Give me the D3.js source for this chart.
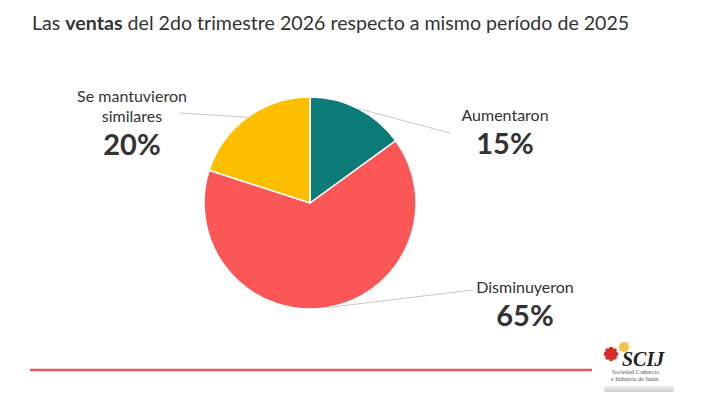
<!DOCTYPE html>
<html>
<head>
<meta charset="utf-8">
<script src="https://cdn.jsdelivr.net/npm/d3@7"></script>
<style>
  body { margin: 0; background: #fff; }
  svg { display: block; }
  text { font-family: Lato, "Open Sans", sans-serif; fill: #333; }
</style>
</head>
<body>
<svg width="720" height="405"></svg>
<script>
const categories = ['Aumentaron', 'Disminuyeron', 'Se mantuvieron similares'];
const values = [15, 65, 20];
const colors = ['#0b7b78', '#fc5757', '#fcbf00'];
// label lines (split where the slide breaks them)
const labelLines = [['Aumentaron'], ['Disminuyeron'], ['Se mantuvieron', 'similares']];
// where each label block sits: [x, y of first line]
const labelPos = [[505, 121], [525, 293], [132, 102]];
const leaderEnd = [[450, 133], [473, 290], [180, 113]];

const svg = d3.select('svg');
const cx = 310, cy = 203, radius = 106;

// title with the bold word
const title = svg.append('text')
  .attr('x', 32).attr('y', 30)
  .style('font-size', '19.6px');
title.append('tspan').text('Las ');
title.append('tspan').style('font-weight', 'bold').text('ventas');
title.append('tspan').text(' del 2do trimestre 2026 respecto a mismo período de 2025');

const data = categories.map((c, i) => ({ cat: c, value: values[i], color: colors[i], i }));

const pie = d3.pie().value(d => d.value).sort(null);
const arc = d3.arc().innerRadius(0).outerRadius(radius);
const arcs = pie(data);

const gPie = svg.append('g').attr('transform', `translate(${cx},${cy})`);

gPie.selectAll('path')
  .data(arcs)
  .join('path')
  .attr('d', arc)
  .attr('fill', d => d.data.color)
  .attr('stroke', '#fff')
  .attr('stroke-width', 1.5);

// leader lines, from the middle of each slice's edge to the label
svg.append('g').selectAll('line')
  .data(arcs)
  .join('line')
  .attr('x1', d => cx + radius * Math.sin((d.startAngle + d.endAngle) / 2))
  .attr('y1', d => cy - radius * Math.cos((d.startAngle + d.endAngle) / 2))
  .attr('x2', d => leaderEnd[d.data.i][0])
  .attr('y2', d => leaderEnd[d.data.i][1])
  .attr('stroke', '#c8c8c8')
  .attr('stroke-width', 1);

// labels
const gLab = svg.append('g').selectAll('g')
  .data(arcs)
  .join('g')
  .attr('transform', d => `translate(${labelPos[d.data.i][0]},${labelPos[d.data.i][1]})`);

gLab.each(function(d) {
  const g = d3.select(this);
  const lines = labelLines[d.data.i];
  lines.forEach((l, k) => {
    g.append('text')
      .attr('y', k * 20)
      .attr('text-anchor', 'middle')
      .style('font-size', '16px')
      .text(l);
  });
  g.append('text')
    .attr('y', (lines.length - 1) * 20 + 33)
    .attr('text-anchor', 'middle')
    .style('font-size', '29px')
    .style('font-weight', 'bold')
    .text(d.data.value + '%');
});

// red rule at the bottom
svg.append('line')
  .attr('x1', 30).attr('x2', 592)
  .attr('y1', 370).attr('y2', 370)
  .attr('stroke', '#e45a5a')
  .attr('stroke-width', 2.5);

// SCIJ logo
const logo = svg.append('g');
function gear(x, y, r, col) {
  const g = logo.append('g').attr('transform', `translate(${x},${y})`);
  d3.range(8).forEach(k => {
    const a = k * Math.PI / 4;
    g.append('circle')
      .attr('cx', r * Math.cos(a)).attr('cy', r * Math.sin(a))
      .attr('r', r * 0.45).attr('fill', col);
  });
  g.append('circle').attr('r', r * 0.85).attr('fill', col);
}
gear(611, 354, 5, '#d82a2a');
gear(624, 347, 3.8, '#f2c14e');
logo.append('text')
  .attr('x', 622).attr('y', 366)
  .style('font-family', '"Liberation Serif", serif')
  .style('font-style', 'italic')
  .style('font-weight', 'bold')
  .style('font-size', '20px')
  .style('fill', '#222')
  .text('SCIJ');
logo.append('text')
  .attr('x', 612).attr('y', 374)
  .style('font-family', '"Liberation Serif", serif')
  .style('font-size', '6px')
  .style('fill', '#555')
  .text('Sociedad Comercio');
logo.append('text')
  .attr('x', 611).attr('y', 381)
  .style('font-family', '"Liberation Serif", serif')
  .style('font-size', '6px')
  .style('fill', '#555')
  .text('e Industria de Junín');
const grad = svg.append('defs').append('linearGradient')
  .attr('id', 'lg').attr('x1', 0).attr('x2', 0).attr('y1', 0).attr('y2', 1);
grad.append('stop').attr('offset', 0).attr('stop-color', '#eeeeee');
grad.append('stop').attr('offset', 1).attr('stop-color', '#cfcfcf');
logo.append('rect')
  .attr('x', 604).attr('y', 386).attr('width', 70).attr('height', 6)
  .attr('rx', 2)
  .attr('fill', 'url(#lg)');
</script>
</body>
</html>
